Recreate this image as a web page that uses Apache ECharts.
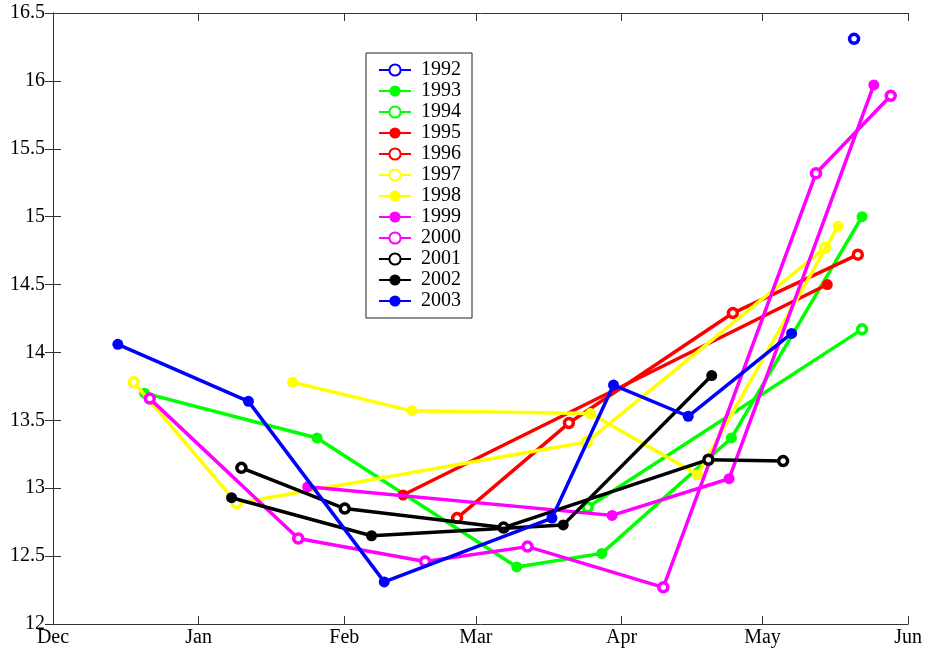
<!DOCTYPE html>
<html>
<head>
<meta charset="utf-8">
<script src="https://cdn.jsdelivr.net/npm/echarts@6/dist/echarts.min.js"></script>
<style>
html,body{margin:0;padding:0;background:#fff;}
#chart{width:925px;height:654px;}
</style>
</head>
<body>
<div id="chart"></div>
<script>
// x values are days counted from 1 December; y values
var monthTicks = [0, 31, 62, 90, 121, 151, 182];
var monthLabels = ['Dec', 'Jan', 'Feb', 'Mar', 'Apr', 'May', 'Jun'];
var yTicks = [12, 12.5, 13, 13.5, 14, 14.5, 15, 15.5, 16, 16.5];

var years = ['1992','1993','1994','1995','1996','1997','1998','1999','2000','2001','2002','2003'];

var d1992 = [[170.5, 16.31]];
var d1993 = [[19.5, 13.70], [56.2, 13.37], [98.7, 12.42], [116.8, 12.52], [144.4, 13.37], [172.2, 15.00]];
var d1994 = [[113.8, 12.86], [172.2, 14.17]];
var d1995 = [[74.5, 12.95], [164.8, 14.50]];
var d1996 = [[86.0, 12.78], [109.8, 13.48], [144.7, 14.29], [171.3, 14.72]];
var d1997 = [[17.2, 13.78], [39.1, 12.89], [113.6, 13.34], [164.3, 14.77]];
var d1998 = [[51.0, 13.78], [76.4, 13.57], [114.4, 13.55], [137.2, 13.10], [167.1, 14.93]];
var d1999 = [[54.2, 13.01], [119.0, 12.80], [143.9, 13.07], [174.7, 15.97]];
var d2000 = [[20.6, 13.66], [52.2, 12.63], [79.2, 12.46], [101.0, 12.57], [129.9, 12.27], [162.4, 15.32], [178.3, 15.89]];
var d2001 = [[40.1, 13.15], [62.1, 12.85], [95.9, 12.71], [139.5, 13.21], [155.4, 13.20]];
var d2002 = [[38.0, 12.93], [67.8, 12.65], [108.6, 12.73], [140.2, 13.83]];
var d2003 = [[13.8, 14.06], [41.6, 13.64], [70.5, 12.31], [106.2, 12.78], [119.3, 13.76], [135.2, 13.53], [157.2, 14.14]];

var seriesData = [d1992, d1993, d1994, d1995, d1996, d1997, d1998, d1999, d2000, d2001, d2002, d2003];
var colors = ['#0000ff','#00ff00','#00ff00','#ff0000','#ff0000','#ffff00','#ffff00','#ff00ff','#ff00ff','#000000','#000000','#0000ff'];
var hollow = [true, false, true, false, true, true, false, false, true, true, false, false];

var FONT = '"Liberation Serif", "Times New Roman", serif';

var series = years.map(function (y, i) {
  return {
    name: y,
    type: 'line',
    data: seriesData[i],
    xAxisIndex: 0,
    yAxisIndex: 0,
    symbol: 'circle',
    symbolSize: hollow[i] ? 9 : 11,
    showAllSymbol: true,
    lineStyle: { color: colors[i], width: 3.5 },
    itemStyle: hollow[i]
      ? { color: '#ffffff', borderColor: colors[i], borderWidth: 3.5 }
      : { color: colors[i], borderWidth: 0 },
    emphasis: { disabled: true },
    z: 2 + i
  };
});

var chart = echarts.init(document.getElementById('chart'), null, { renderer: 'canvas' });
chart.setOption({
  animation: false,
  backgroundColor: '#ffffff',
  grid: { left: 53, right: 15, top: 13, bottom: 30, containLabel: false },
  legend: {
    data: years,
    orient: 'vertical',
    left: 366,
    top: 53,
    itemWidth: 32,
    itemHeight: 14,
    itemGap: 1,
    padding: [7, 11, 7, 12],
    borderColor: '#222',
    borderWidth: 1,
    backgroundColor: '#fff',
    textStyle: { fontFamily: FONT, fontSize: 20, color: '#000', lineHeight: 19, padding: [0, 0, 0, 5] }
  },
  xAxis: [{
    type: 'value',
    min: 0, max: 182,
    position: 'bottom',
    splitLine: { show: false },
    axisLine: { show: true, lineStyle: { color: '#333', width: 1 } },
    axisTick: { show: true, inside: true, length: 8, customValues: monthTicks, lineStyle: { color: '#333' } },
    axisLabel: {
      show: true, customValues: monthTicks, margin: 4,
      fontFamily: FONT, fontSize: 20, color: '#000',
      formatter: function (v) { var k = monthTicks.indexOf(v); return k >= 0 ? monthLabels[k] : ''; }
    }
  }, {
    type: 'value',
    min: 0, max: 182,
    position: 'top',
    splitLine: { show: false },
    axisLine: { show: true, lineStyle: { color: '#333', width: 1 } },
    axisTick: { show: true, inside: true, length: 8, customValues: monthTicks, lineStyle: { color: '#333' } },
    axisLabel: { show: false }
  }],
  yAxis: [{
    type: 'value',
    min: 12, max: 16.5, interval: 0.5,
    position: 'left',
    splitLine: { show: false },
    axisLine: { show: true, lineStyle: { color: '#333', width: 1 } },
    axisTick: { show: true, inside: true, length: 8, lineStyle: { color: '#333' } },
    axisLabel: {
      show: true, margin: 8, fontFamily: FONT, fontSize: 20, color: '#000',
      customValues: yTicks
    }
  }, {
    type: 'value',
    min: 12, max: 16.5, interval: 0.5,
    position: 'right',
    splitLine: { show: false },
    axisLine: { show: true, lineStyle: { color: '#333', width: 1 } },
    axisTick: { show: true, inside: true, length: 8, lineStyle: { color: '#333' } },
    axisLabel: { show: false }
  }],
  series: series
});
</script>
</body>
</html>
